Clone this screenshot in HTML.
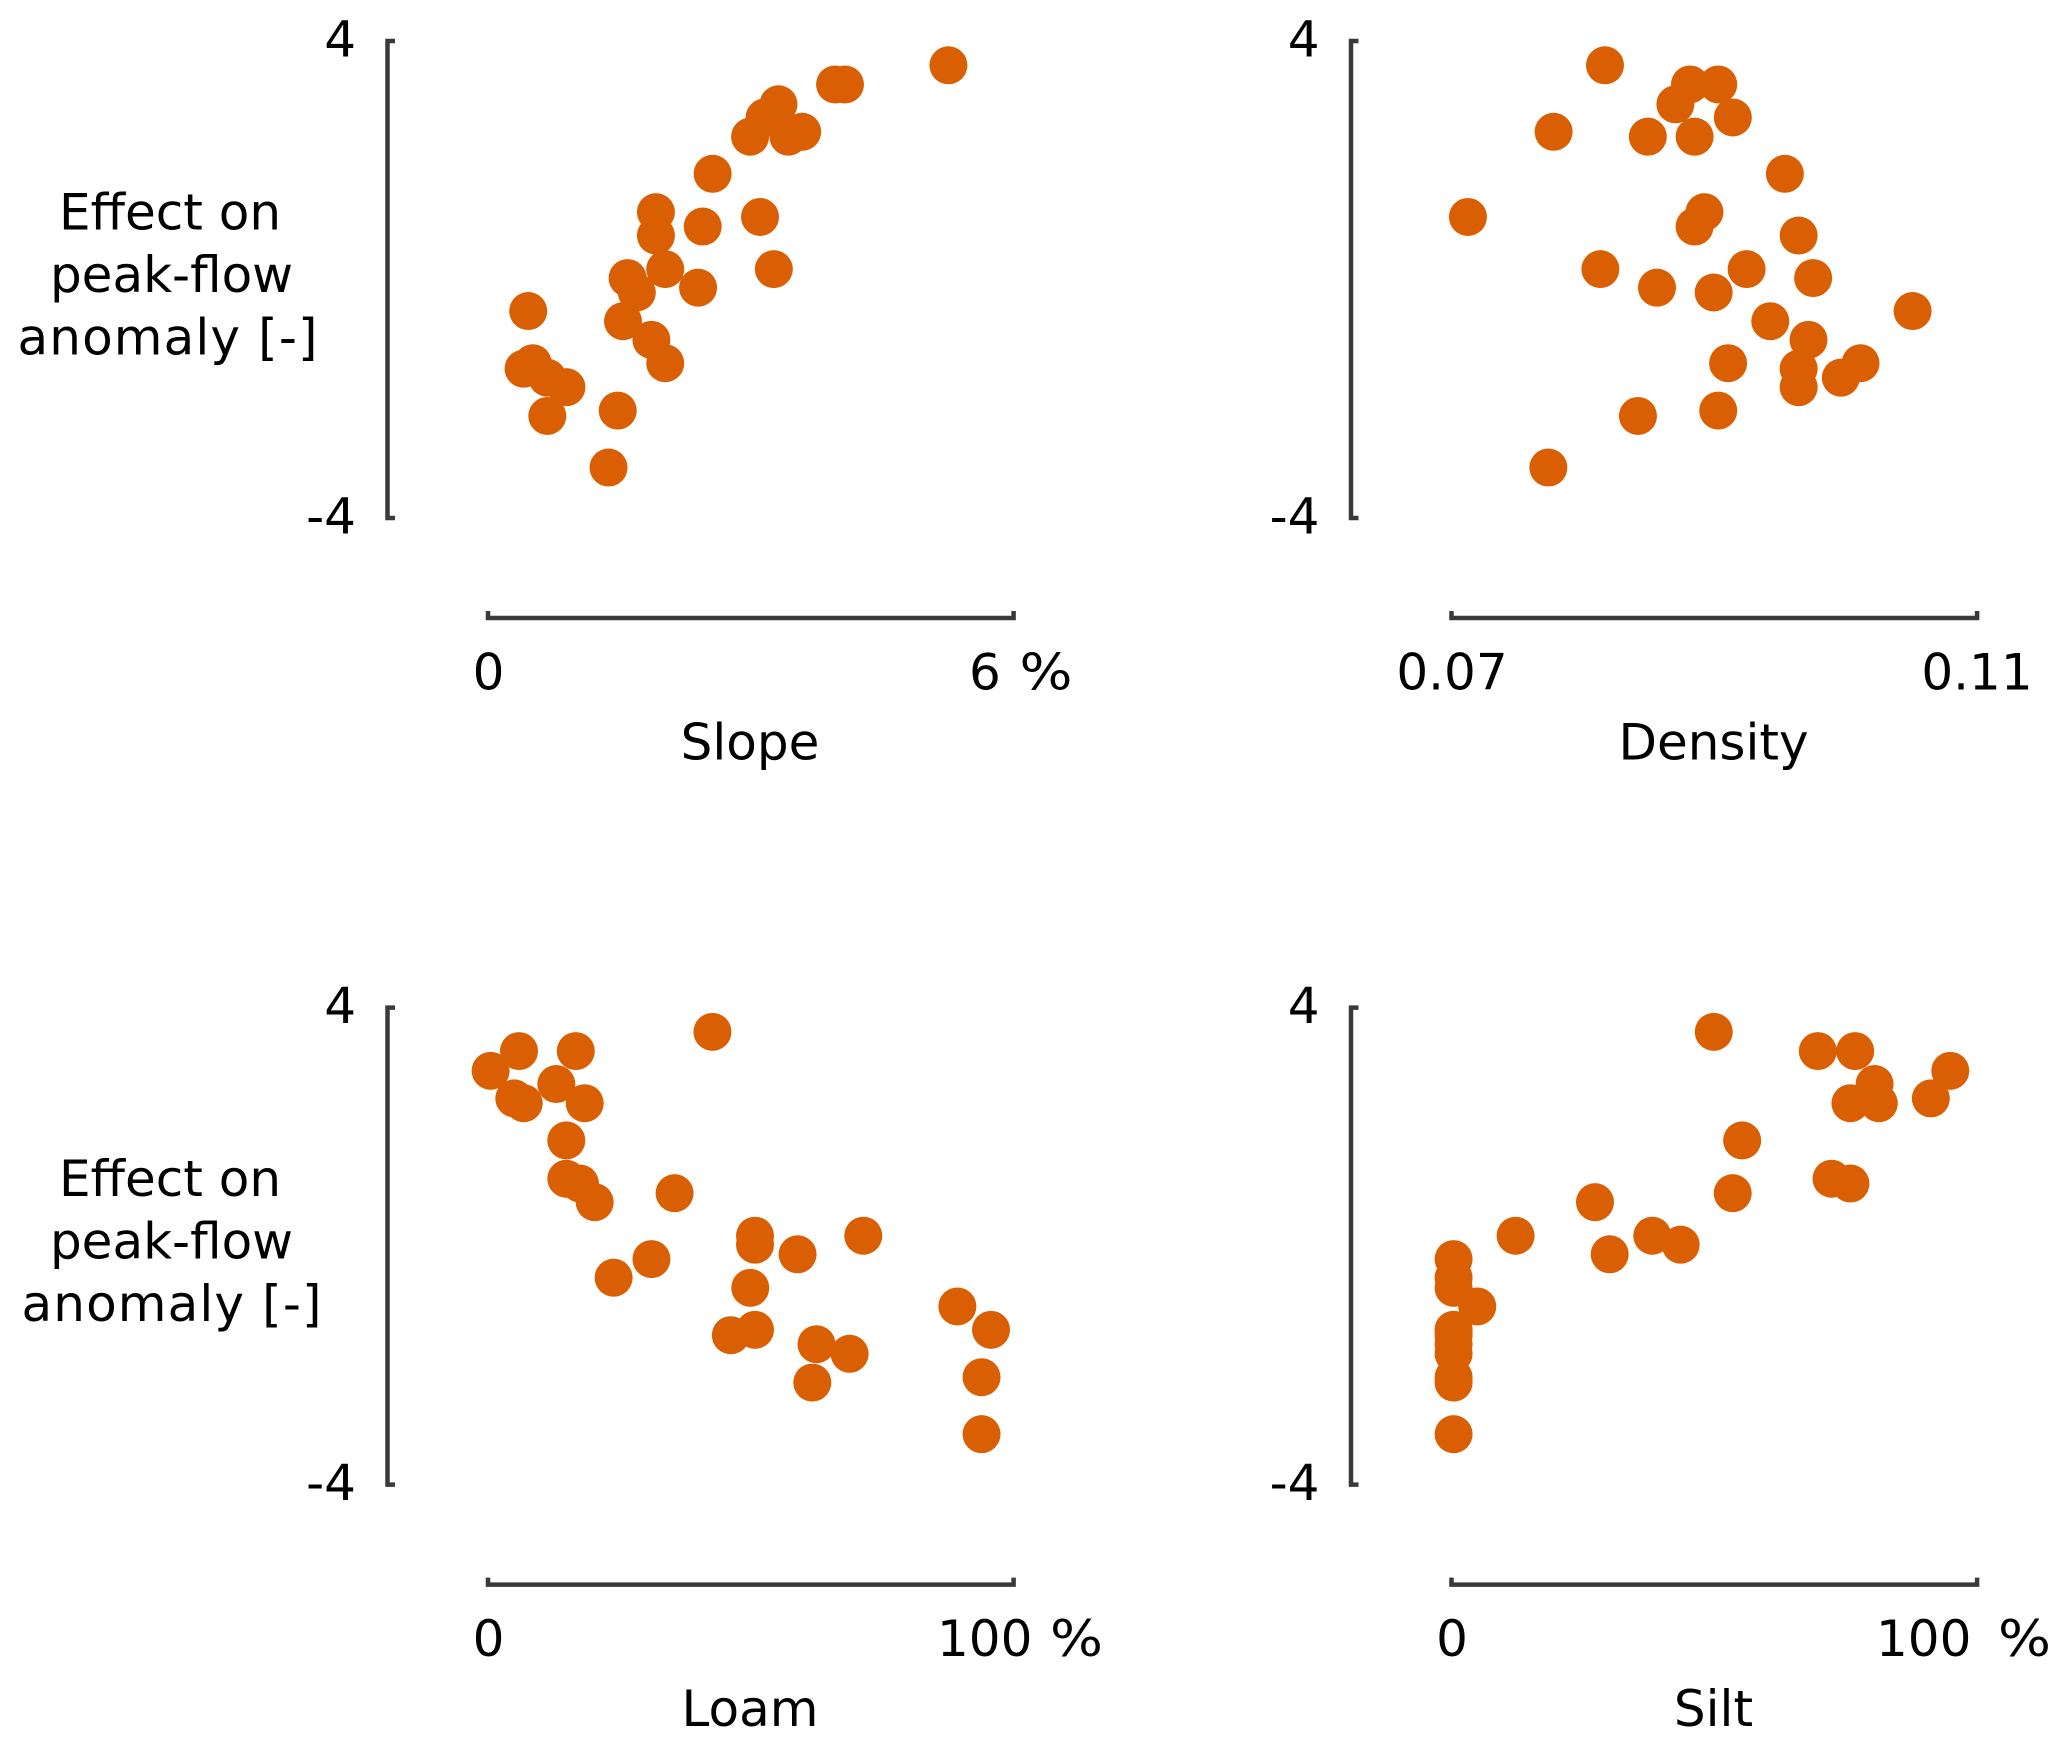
<!DOCTYPE html>
<html lang="en">
<head>
<meta charset="utf-8">
<title>Effect on peak-flow anomaly</title>
<style>
  html, body { margin: 0; padding: 0; background: #fff; }
  svg { display: block; }
  text { font-family: "DejaVu Sans", "Liberation Sans", sans-serif; font-size: 50px; fill: #000; }
</style>
</head>
<body>
<svg id="chart" xmlns="http://www.w3.org/2000/svg" width="2067" height="1747" viewBox="0 0 2067 1747"></svg>
<script>
const effectValues = [3.593,3.271,3.271,2.939,2.718,2.477,2.396,2.396,1.773,1.130,1.049,0.888,0.737,0.174,0.174,0.024,-0.137,-0.218,-0.529,-0.700,-1.012,-1.404,-1.404,-1.495,-1.646,-1.806,-2.199,-2.289,-3.154];
const slopeValues = [5.256,3.962,4.075,3.316,3.158,3.586,2.992,3.429,2.564,1.917,3.105,2.451,1.917,2.023,3.263,1.594,2.398,1.699,0.459,1.541,1.865,2.023,0.511,0.406,0.677,0.895,1.481,0.677,1.376];
const densityValues = [0.08168,0.08815,0.09030,0.08704,0.09141,0.07777,0.08494,0.08850,0.09537,0.08925,0.07125,0.08850,0.09642,0.08133,0.09246,0.09752,0.08564,0.08995,0.10509,0.09426,0.09717,0.09105,0.10113,0.09642,0.09963,0.09642,0.09030,0.08419,0.07737];
const loamValues = [42.7,5.9,16.7,0.5,13.0,5.0,6.8,18.4,14.9,14.9,17.5,35.5,20.3,50.8,71.4,50.8,58.9,31.1,23.9,49.9,89.3,50.8,95.7,46.2,62.5,68.8,93.9,61.7,93.9];
const siltValues = [49.9,69.7,76.8,94.9,80.5,91.2,75.9,81.3,55.3,72.3,75.9,53.5,27.3,12.2,38.2,43.6,30.1,0.4,0.4,0.4,4.9,0.4,0.4,0.4,0.4,0.4,0.4,0.4,0.4];
const yDomain = [-4, 4];
const yTickLabels = ["-4", "4"];
const slopeDomain = [0, 6];
const densityDomain = [0.07, 0.11];
const percentDomain = [0, 100];
const slopeTickLabels = ["0", "6"];
const densityTickLabels = ["0.07", "0.11"];
const percentTickLabels = ["0", "100"];
const yAxisTitleLines = ["Effect on", "peak-flow", "anomaly [-]"];

const svg = document.getElementById('chart');
const NS = 'http://www.w3.org/2000/svg';
const AXIS_COLOR = '#3a3a3a';
const MARK_COLOR = '#d95f02';

function make(tag, attrs, parent) {
  const el = document.createElementNS(NS, tag);
  for (const k in attrs) el.setAttribute(k, attrs[k]);
  parent.appendChild(el);
  return el;
}
function linear(domain, a, b) {
  return function (v) { return a + (v - domain[0]) / (domain[1] - domain[0]) * (b - a); };
}

function drawPanel(o) {
  const g = make('g', {}, svg);
  
  

  const xScale = linear(o.xDomain, o.xLeft, o.xLeft + 525.6);
  const yScale = linear(yDomain, o.yTop + 477, o.yTop);
  const axisY = o.yTop + 577;

  const yAxis = make('path', {
    d: 'M' + (o.yAxisX + 7.5) + ' ' + yScale(yDomain[1]) + 'H' + o.yAxisX + 'V' + yScale(yDomain[0]) + 'H' + (o.yAxisX + 7.5),
    fill: 'none', stroke: AXIS_COLOR, 'stroke-width': 4.5
  }, g);
  
  

  const xAxis = make('path', {
    d: 'M' + xScale(o.xDomain[0]) + ' ' + (axisY - 7) + 'V' + axisY + 'H' + xScale(o.xDomain[1]) + 'V' + (axisY - 7),
    fill: 'none', stroke: AXIS_COLOR, 'stroke-width': 4.5
  }, g);
  
  

  yDomain.forEach(function (v, i) {
    const t = make('text', { x: o.yAxisX - 31.5, y: yScale(v) + 15.5, 'text-anchor': 'end' }, g);
    t.textContent = yTickLabels[i];
    
    
  });

  const t0 = make('text', { x: xScale(o.xDomain[0]) + 0.5, y: o.yTop + 648.3, 'text-anchor': 'middle' }, g);
  t0.textContent = o.tickLabels[0];
  
  

  const t1 = make('text', { x: o.maxLabelX, y: o.yTop + 648.3, 'text-anchor': o.maxLabelAnchor }, g);
  t1.textContent = o.tickLabels[1];
  
  

  if (o.unitX) {
    const u = make('text', { x: o.unitX, y: o.yTop + 648.3, textLength: 53, lengthAdjust: 'spacingAndGlyphs' }, g);
    u.textContent = '%';
    
    
  }

  const xt = make('text', { x: xScale(o.xDomain[0]) + 262, y: o.yTop + 718.3, 'text-anchor': 'middle' }, g);
  xt.textContent = o.title;
  
  

  if (o.yTitleX) {
    yAxisTitleLines.forEach(function (line, i) {
      const shift = i === 0 ? 0 : i === 1 ? 1.5 : o.yTitleShift;
      const attrs = { x: o.yTitleX + shift, y: o.yTop + 188.6 + i * 62.5, 'text-anchor': 'middle' };
      if (i === 2) { attrs.textLength = 300; attrs.lengthAdjust = 'spacing'; }
      const yl = make('text', attrs, g);
      yl.textContent = line;
      
      
    });
  }

  o.values.forEach(function (v, i) {
    const c = make('circle', { cx: xScale(v), cy: yScale(effectValues[i]), r: 19, fill: MARK_COLOR }, g);
    
    
  });
}

drawPanel({ name: 'slope', title: 'Slope', values: slopeValues, xDomain: slopeDomain, tickLabels: slopeTickLabels,
  xLeft: 488, yTop: 41, yAxisX: 387.5, maxLabelX: 969, maxLabelAnchor: 'start', unitX: 1019.5, yTitleX: 170, yTitleShift: -2.5 });
drawPanel({ name: 'density', title: 'Density', values: densityValues, xDomain: densityDomain, tickLabels: densityTickLabels,
  xLeft: 1451.5, yTop: 41, yAxisX: 1351, maxLabelX: 1977, maxLabelAnchor: 'middle' });
drawPanel({ name: 'loam', title: 'Loam', values: loamValues, xDomain: percentDomain, tickLabels: percentTickLabels,
  xLeft: 488, yTop: 1007.6, yAxisX: 387.5, maxLabelX: 937, maxLabelAnchor: 'start', unitX: 1050, yTitleX: 170, yTitleShift: 1.5 });
drawPanel({ name: 'silt', title: 'Silt', values: siltValues, xDomain: percentDomain, tickLabels: percentTickLabels,
  xLeft: 1451.5, yTop: 1007.6, yAxisX: 1351, maxLabelX: 1876, maxLabelAnchor: 'start', unitX: 1998 });
</script>
</body>
</html>
